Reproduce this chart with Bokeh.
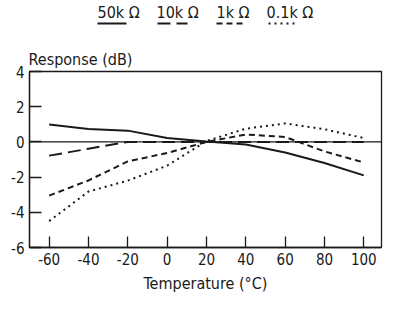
from bokeh.plotting import figure
from bokeh.layouts import column
from bokeh.models import Range1d, Span, FixedTicker
from bokeh.core.properties import value
from bokeh.embed import file_html
from bokeh.resources import INLINE

# ---- data ----
temps = [-60, -40, -20, 0, 20, 40, 60, 80, 100]
r50k = [0.99, 0.73, 0.64, 0.22, 0.02, -0.15, -0.6, -1.2, -1.9]
r10k = [-0.78, -0.39, 0.0, 0.0, 0.0, 0.0, 0.0, 0.0, 0.0]
r1k = [-3.05, -2.19, -1.11, -0.63, 0.0, 0.42, 0.28, -0.54, -1.17]
r01k = [-4.5, -2.82, -2.2, -1.35, 0.05, 0.75, 1.05, 0.72, 0.22]
series_names = ["50k \u03a9", "10k \u03a9", "1k \u03a9", "0.1k \u03a9"]
x_ticks = [-60, -40, -20, 0, 20, 40, 60, 80, 100]
y_ticks = [-6, -4, -2, 0, 2, 4]

FONT = "DejaVu Sans Condensed"
INK = "#1a1a1a"
dashes = ["solid", "13 6", "6 4", "2 4"]

W = 383
BL, BR = 29, 2

# ---- legend strip (pixel coordinates, frame aligned with chart) ----
leg = figure(width=W, height=40, x_range=Range1d(BL, W - BR), y_range=Range1d(40, 0),
             x_axis_type=None, y_axis_type=None, toolbar_location=None,
             output_backend="svg", min_border=0, min_border_left=BL,
             min_border_right=BR, outline_line_color=None)
leg.grid.visible = False
text_x = [97, 156, 216, 266]
line_spans = [(97, 126), (157, 187), (216, 244), (268, 296)]
leg.text(x=text_x, y=[11.5] * 4, text=series_names, text_font=value(FONT),
         text_font_size="16px", text_baseline="middle", text_align="left",
         text_color=INK)
for (x0, x1), d in zip(line_spans, dashes):
    leg.line([x0, x1], [23, 23], line_color=INK, line_width=2, line_dash=d)

# ---- main chart ----
p = figure(width=W, height=255, x_range=Range1d(-70, 109), y_range=Range1d(-6, 4),
           toolbar_location=None, output_backend="svg",
           min_border_left=BL, min_border_right=BR, min_border_top=31,
           min_border_bottom=47, title="Response (dB)")
p.title.align = "left"
p.title.offset = -1
p.title.standoff = 5
p.title.text_font = FONT
p.title.text_font_size = "16px"
p.title.text_font_style = "normal"
p.title.text_color = INK
p.title.vertical_align = "bottom"
p.grid.visible = False
p.outline_line_color = INK
p.outline_line_width = 1.3
p.background_fill_color = "white"

for ax in (p.xaxis, p.yaxis):
    ax.axis_line_color = INK
    ax.axis_line_width = 1.3
    ax.major_tick_line_color = INK
    ax.major_tick_line_width = 1.3
    ax.major_tick_out = 0
    ax.minor_tick_line_color = None
    ax.major_label_text_font = FONT
    ax.major_label_text_font_size = "15px"
    ax.major_label_text_color = INK

p.xaxis.ticker = FixedTicker(ticks=x_ticks)
p.yaxis.ticker = FixedTicker(ticks=y_ticks)
p.xaxis.major_label_overrides = {t: str(t) for t in x_ticks}
p.yaxis.major_label_overrides = {t: str(t) for t in y_ticks}
p.xaxis.major_tick_in = 11
p.yaxis.major_tick_in = 12
p.xaxis.major_label_standoff = 5
p.yaxis.major_label_standoff = 5
p.xaxis.axis_label = "Temperature (\u00b0C)"
p.xaxis.axis_label_text_font = FONT
p.xaxis.axis_label_text_font_size = "16px"
p.xaxis.axis_label_text_font_style = "normal"
p.xaxis.axis_label_text_color = INK
p.xaxis.axis_label_standoff = 6

p.add_layout(Span(location=0, dimension="width", line_color=INK, line_width=1.2))

for ys, d in zip([r50k, r10k, r1k, r01k], dashes):
    p.line(temps, ys, line_color=INK, line_width=2, line_dash=d)

layout = column(leg, p, spacing=0)
open("out.html", "w").write(file_html(layout, INLINE))
